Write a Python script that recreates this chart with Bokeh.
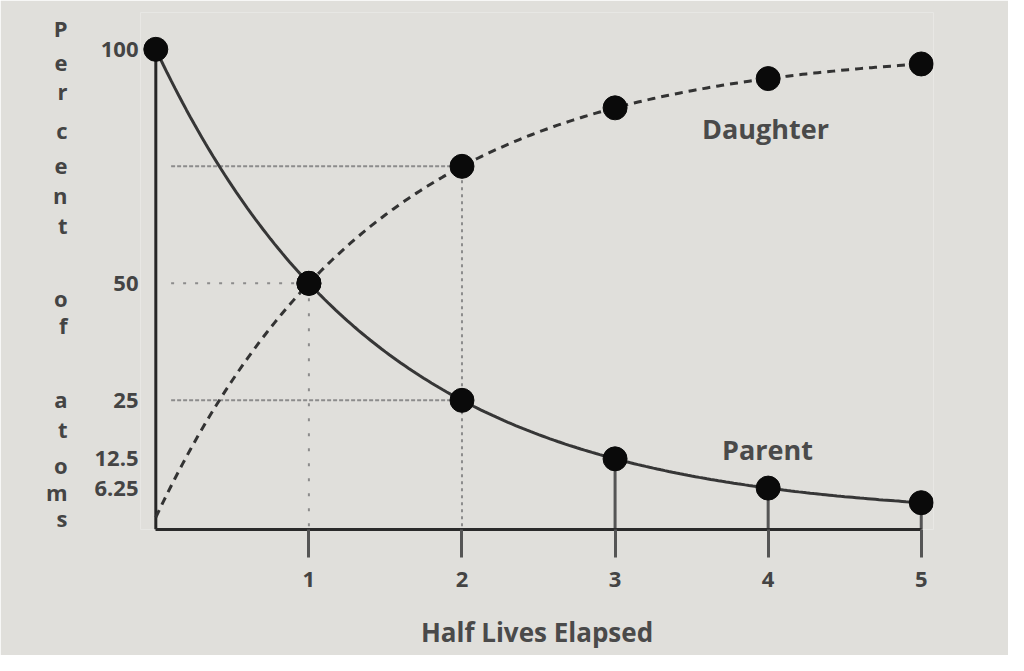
from bokeh.plotting import figure
from bokeh.models import Range1d, FixedTicker, Label, LinearAxis
from bokeh.embed import file_html
from bokeh.resources import INLINE

# ---- data ----
half_lives = [0, 1, 2, 3, 4, 5]
parent_pct = [100, 50, 25, 12.5, 6.25, 3.125]
daughter_pct = [0, 50, 75, 87.5, 93.75, 96.875]
x_ticks = [1, 2, 3, 4, 5]
y_ticks = [6.25, 12.5, 25, 50, 100]
y_title = "Percent of atoms"
x_title = "Half Lives Elapsed"

# ---- layout ----
BG = "#e0dfdb"
FONT = "Open Sans"
X0, X1 = -0.1, 5.08
Y0 = -2.6
Y1 = Y0 + (537 - 20) / 4.68

p = figure(width=1008, height=655, output_backend="svg", toolbar_location=None,
           x_range=Range1d(X0, X1), y_range=Range1d(Y0, Y1),
           min_border_left=140, min_border_right=75, min_border_top=12,
           min_border_bottom=126)
p.background_fill_color = BG
p.border_fill_color = BG
p.outline_line_color = None
p.grid.visible = False


def px_to_data(ix, iy):
    # image pixel -> data coordinates (frame: left 148, bottom 537)
    return X0 + (ix - 148) / 153.1, Y0 + (537 - iy) / 4.68


# smooth connectors (geometric interpolation between the data points)
def geo_curve(xs, ys, n=40):
    cx, cy = [], []
    for i in range(len(xs) - 1):
        for k in range(n + 1):
            t = k / n
            cx.append(xs[i] + t * (xs[i + 1] - xs[i]))
            cy.append(ys[i] * (ys[i + 1] / ys[i]) ** t)
    return cx, cy


pcx, pcy = geo_curve(half_lives, parent_pct)
rem = [100 - d for d in daughter_pct]
dcx, dry = geo_curve(half_lives, rem)
dcy = [100 - r for r in dry]

# reference (guide) lines
GUIDE = "#8c8c8c"
p.segment(x0=[0.1], y0=[daughter_pct[2]], x1=[half_lives[2]], y1=[daughter_pct[2]],
          line_color=GUIDE, line_width=2, line_dash="4 2")
p.segment(x0=[0.1], y0=[parent_pct[1]], x1=[half_lives[1]], y1=[parent_pct[1]],
          line_color=GUIDE, line_width=2, line_dash="3 9")
p.segment(x0=[0.1], y0=[parent_pct[2]], x1=[half_lives[2]], y1=[parent_pct[2]],
          line_color=GUIDE, line_width=2, line_dash="4 2")
p.segment(x0=[half_lives[1]], y0=[parent_pct[1]], x1=[half_lives[1]], y1=[Y0],
          line_color=GUIDE, line_width=2, line_dash="3 12")
p.segment(x0=[half_lives[2]], y0=[daughter_pct[2]], x1=[half_lives[2]], y1=[Y0],
          line_color=GUIDE, line_width=2, line_dash="3 4")
# solid drops
p.segment(x0=half_lives[3:], y0=parent_pct[3:], x1=half_lives[3:], y1=[Y0] * 3,
          line_color="#555555", line_width=3)

# y axis line
p.segment(x0=[half_lives[0]], y0=[Y0], x1=[half_lives[0]], y1=[parent_pct[0]],
          line_color="#262626", line_width=3)

# curves
p.line(pcx, pcy, line_color="#363636", line_width=3)
p.line(dcx, dcy, line_color="#333333", line_width=3, line_dash="8 6")

# points
p.scatter(half_lives, parent_pct, size=24, color="#0a0a0a")
p.scatter(half_lives[1:], daughter_pct[1:], size=24, color="#0a0a0a")

# axes
xa = p.xaxis[0]
xa.ticker = FixedTicker(ticks=x_ticks)
xa.bounds = (0, 5)
xa.axis_line_width = 3
xa.axis_line_color = "#2a2a2a"
xa.major_tick_out = 28
xa.major_tick_in = 0
xa.major_tick_line_width = 3
xa.major_tick_line_color = "#555555"
xa.minor_tick_line_color = None
xa.major_label_text_font = FONT
xa.major_label_text_font_size = "22px"
xa.major_label_text_font_style = "bold"
xa.major_label_text_color = "#444444"
xa.major_label_standoff = 14
xa.axis_label = x_title
xa.axis_label_text_font = FONT
xa.axis_label_text_font_size = "26px"
xa.axis_label_text_font_style = "bold"
xa.axis_label_text_color = "#4a4a4a"
xa.axis_label_standoff = 24

ya = p.yaxis[0]
ya.ticker = FixedTicker(ticks=y_ticks)
ya.major_label_overrides = {6.25: "6.25", 12.5: "12.5", 25: "25", 50: "50", 100: "100"}
ya.axis_line_color = None
ya.major_tick_line_color = None
ya.minor_tick_line_color = None
ya.major_tick_out = 0
ya.major_tick_in = 0
ya.major_label_standoff = 2
ya.major_label_text_font = FONT
ya.major_label_text_font_size = "22px"
ya.major_label_text_font_style = "bold"
ya.major_label_text_color = "#444444"

# stacked vertical y title, drawn as an extra left axis whose labels are letters
letter_rows = [35, 70, 98, 137, 172, 202, 233, None, 305, 333, None, 407, 437, 473, 500, 525]
letter_ticks, letter_map = [], {}
for ch, row in zip(y_title, letter_rows):
    if ch == " " or row is None:
        continue
    ly = round(px_to_data(68, row)[1], 2)
    letter_ticks.append(ly)
    letter_map[ly] = ch
title_axis = LinearAxis(ticker=FixedTicker(ticks=letter_ticks),
                        major_label_overrides=letter_map)
title_axis.axis_line_color = None
title_axis.major_tick_line_color = None
title_axis.minor_tick_line_color = None
title_axis.major_tick_out = 0
title_axis.major_tick_in = 0
title_axis.major_label_standoff = 24
title_axis.major_label_text_align = "center"
title_axis.major_label_text_font = FONT
title_axis.major_label_text_font_size = "22px"
title_axis.major_label_text_font_style = "bold"
title_axis.major_label_text_color = "#444444"
p.add_layout(title_axis, "left")

# series labels
for name, (ix, iy) in [("Daughter", (773, 136)), ("Parent", (775, 457))]:
    lx, ly = px_to_data(ix, iy)
    p.add_layout(Label(x=lx, y=ly, text=name, text_align="center", text_baseline="middle",
                       text_font=FONT, text_font_size="27px", text_font_style="bold",
                       text_color="#4a4a4a"))

open("out.html", "w").write(file_html(p, INLINE))
